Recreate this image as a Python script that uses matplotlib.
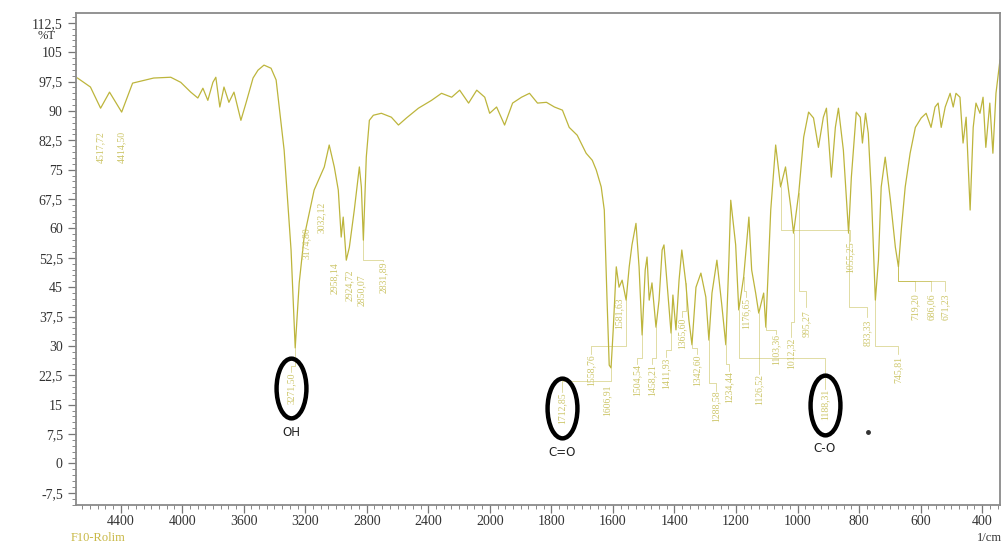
import numpy as np
import matplotlib.pyplot as plt
from matplotlib.path import Path
from matplotlib.transforms import Affine2D
from matplotlib.ticker import FixedLocator, FuncFormatter

# spectre IR (1/cm, %T)
wavenumber = [4680, 4596, 4530, 4472, 4393, 4322, 4185, 4074, 4009, 3944,
              3898, 3865, 3833, 3800, 3781, 3755, 3728, 3696, 3663, 3618,
              3585, 3539, 3507, 3468, 3422, 3389, 3337, 3292, 3265, 3239,
              3207, 3142, 3076, 3044, 3011, 2985, 2966, 2953, 2933, 2913,
              2881, 2848, 2835, 2822, 2803, 2783, 2757, 2705, 2640, 2594,
              2542, 2464, 2379, 2314, 2248, 2196, 2138, 2085, 2033, 2001,
              1978, 1952, 1926, 1897, 1871, 1845, 1816, 1790, 1764, 1742,
              1716, 1687, 1667, 1654, 1638, 1628, 1619, 1612, 1606, 1599,
              1589, 1580, 1570, 1557, 1547, 1538, 1525, 1515, 1505, 1495,
              1489, 1482, 1473, 1460, 1450, 1440, 1434, 1424, 1411, 1405,
              1395, 1385, 1376, 1363, 1353, 1343, 1330, 1314, 1298, 1288,
              1278, 1262, 1246, 1233, 1223, 1217, 1201, 1191, 1175, 1158,
              1149, 1136, 1126, 1110, 1103, 1087, 1071, 1055, 1039, 1022,
              1013, 996, 980, 964, 948, 932, 916, 906, 890, 877,
              867, 851, 834, 825, 809, 796, 789, 779, 770, 760,
              747, 737, 728, 715, 698, 682, 672, 662, 650, 634,
              617, 598, 582, 566, 553, 543, 533, 520, 504, 494,
              485, 472, 462, 452, 439, 429, 420, 407, 397, 388,
              375, 365, 355, 342]
transmittance = [98.4, 96.1, 90.7, 94.8, 89.7, 97.1, 98.4, 98.6, 97.3, 94.8,
                 93.3, 95.8, 92.7, 97.3, 98.6, 91.0, 96.1, 92.2, 94.8, 87.6,
                 92.0, 98.4, 100.4, 101.7, 100.9, 97.9, 80.0, 54.5, 29.5, 46.1,
                 57.8, 69.8, 75.7, 81.3, 75.7, 69.8, 57.8, 62.9, 51.9, 55.2,
                 64.7, 75.7, 70.6, 57.0, 78.2, 87.6, 88.9, 89.4, 88.4, 86.4,
                 88.2, 90.7, 92.7, 94.5, 93.5, 95.3, 92.0, 95.3, 93.5, 89.4,
                 91.0, 86.4, 92.0, 93.5, 94.5, 92.0, 92.2, 91.0, 90.2, 85.8,
                 83.8, 79.2, 77.4, 74.9, 70.6, 64.7, 41.7, 25.1, 24.4, 34.1,
                 50.2, 45.0, 46.8, 41.7, 50.2, 55.8, 61.3, 50.2, 32.8, 49.4,
                 52.7, 41.7, 46.1, 34.8, 41.7, 54.5, 55.8, 46.1, 33.3, 43.0,
                 34.1, 46.8, 54.5, 46.1, 36.6, 30.3, 45.0, 48.6, 42.5, 31.5,
                 43.5, 51.9, 40.4, 30.3, 51.9, 67.2, 55.8, 39.2, 47.6, 62.9,
                 49.4, 43.5, 38.4, 43.5, 34.8, 64.7, 81.3, 70.6, 75.7, 65.5,
                 58.8, 69.0, 83.3, 89.7, 88.2, 80.7, 88.4, 90.7, 73.1, 85.8,
                 90.7, 80.0, 58.8, 73.1, 89.7, 88.4, 81.8, 89.4, 84.3, 69.0,
                 41.7, 51.9, 70.6, 78.2, 67.2, 55.2, 50.2, 60.3, 70.6, 79.2,
                 85.8, 88.2, 89.4, 85.8, 91.0, 92.0, 85.8, 91.0, 94.5, 91.0,
                 94.5, 93.5, 81.8, 88.4, 64.7, 85.8, 92.0, 89.4, 93.5, 80.7,
                 92.0, 79.2, 94.5, 103.0]

# étiquettes des pics : texte, pic, position de l'étiquette, niveau du trait
peak_text = ["4517,72", "4414,50", "3174,80", "3032,12", "2958,14", "2924,72",
             "2850,07", "2831,89",
             "1606,91", "1581,63", "1558,76", "1504,54", "1458,21", "1411,93",
             "1365,60", "1342,60", "1288,58", "1234,44", "1176,65", "1126,52",
             "1103,36", "1012,32", "995,27", "1055,25", "833,33", "745,81",
             "719,20", "686,06", "671,23"]
peak_wn = [4530, 4393, 3207, 3076, 3011, 2913, 2848, 2822,
           1612, 1580, 1557, 1505, 1460, 1411, 1363, 1343, 1288, 1233,
           1175, 1126, 1103, 1013, 996, 1055, 834, 747, 672, 672, 672]
peak_T = [90.7, 89.7, 57.8, 75.7, 75.7, 55.2, 75.7, 57.0,
          25.1, 45.0, 41.7, 32.8, 34.8, 33.3, 46.1, 30.3, 31.5, 30.3,
          47.6, 38.4, 34.8, 58.8, 69.0, 70.6, 58.8, 41.7, 50.2, 50.2, 50.2]
label_wn = [4530, 4393, 3194, 3096, 3011, 2913, 2835, 2692,
            1619, 1580, 1670, 1521, 1473, 1427, 1376, 1327, 1265, 1223,
            1168, 1126, 1071, 1022, 971, 830, 774, 672, 617, 566, 520]
label_T = [80.7, 80.7, 56.2, 62.9, 47.3, 45.5, 44.3, 47.6,
           16.2, 38.4, 23.9, 21.3, 21.3, 23.1, 33.3, 23.9, 14.5, 19.6,
           38.4, 18.8, 29.0, 28.2, 35.8, 52.7, 33.3, 23.9, 40.0, 40.0, 40.0]
lead_T = [np.nan, np.nan, np.nan, np.nan, np.nan, np.nan, np.nan, 52.0,
          np.nan, np.nan, 30.0, 27.0, 27.0, 29.0, 39.0, 29.5, 20.5, 25.5,
          44.0, 24.5, 34.0, 36.0, 44.0, 59.6, 40.0, 30.0, 46.5, 46.5, 46.5]

# bandes entourées
group_name = ["OH", "C=O", "C-O"]
group_text = ["3271,50", "1712,85", "1188,31"]
group_wn = [3292, 1764, 912]
group_T = [19.3, 14.2, 15.0]
group_peak_wn = [3265, 1606, 1191]
group_peak_T = [29.5, 24.4, 39.2]
group_lead_T = [25.0, 21.0, 27.0]

yticks = [-7.5, 0, 7.5, 15, 22.5, 30, 37.5, 45, 52.5, 60, 67.5, 75,
          82.5, 90, 97.5, 105, 112.5]
xticks = [4400, 4000, 3600, 3200, 2800, 2400, 2000, 1800, 1600, 1400,
          1200, 1000, 800, 600, 400]

line_color = '#bdb53c'
label_color = '#cdc66a'
half_len = 4.1


def forward(x):
    x = np.asarray(x, dtype=float)
    return np.where(x > 2000, 2000 + (x - 2000) / 2, x)


def inverse(t):
    t = np.asarray(t, dtype=float)
    return np.where(t > 2000, 2000 + (t - 2000) * 2, t)


def comma(v, pos=None):
    s = ('%g' % v)
    return s.replace('.', ',')


plt.rcParams['font.family'] = ['Liberation Serif', 'DejaVu Serif']

fig = plt.figure(figsize=(10.05, 5.44), dpi=100)
ax = fig.add_axes([0.0756, 0.0717, 0.9194, 0.9044])
ax.set_xscale('function', functions=(forward, inverse))
ax.set_xlim(4690, 342)
ax.set_ylim(-10.6, 115)

ax.plot(wavenumber, transmittance, color=line_color, lw=0.9)

# étiquettes verticales et traits de rappel
for txt, pw, pt, lw_, lt, ld in zip(peak_text, peak_wn, peak_T, label_wn,
                                     label_T, lead_T):
    top = lt + half_len
    if not np.isnan(ld):
        ax.plot([pw, pw, lw_, lw_], [pt, ld, ld, top], color=line_color,
                lw=0.5, alpha=0.65)
    ax.text(lw_, lt, txt, rotation=90, fontsize=7, color=label_color,
            ha='center', va='center')

ellipse = Path.unit_circle().transformed(Affine2D().scale(0.5, 1.0))
for name, txt, gw, gt, pw, pt, ld in zip(group_name, group_text, group_wn,
                                         group_T, group_peak_wn,
                                         group_peak_T, group_lead_T):
    ax.plot([pw, pw, gw, gw], [pt, ld, ld, gt + half_len], color=line_color,
            lw=0.5, alpha=0.65)
    ax.text(gw, gt, txt, rotation=90, fontsize=7, color=label_color,
            ha='center', va='center')
    ax.plot([gw], [gt], marker=ellipse, ms=43, mfc='none', mec='black',
            mew=3.2)
    ax.text(gw, gt - 11.3, name, fontsize=8.5, color='#222222',
            ha='center', va='center', family='DejaVu Sans')

ax.plot([770], [8.0], marker='o', ms=2.5, color='#333333')

ax.xaxis.set_major_locator(FixedLocator(xticks))
ax.xaxis.set_minor_locator(FixedLocator(list(range(350, 2000, 25)) +
                                        list(range(2050, 4700, 50))))
ax.yaxis.set_major_locator(FixedLocator(yticks))
ax.yaxis.set_minor_locator(FixedLocator(np.arange(-10.5, 115, 1.5)))
ax.yaxis.set_major_formatter(FuncFormatter(comma))
ax.xaxis.set_major_formatter(FuncFormatter(comma))
ax.tick_params(which='major', direction='out', length=6, width=0.9,
               color='#777777', labelsize=10, labelcolor='#333333')
ax.tick_params(axis='x', which='major', pad=1.5)
ax.tick_params(which='minor', direction='out', length=3, width=0.7,
               color='#888888')
for s in ax.spines.values():
    s.set_color('#8a8a8a')
    s.set_linewidth(1.3)

fig.text(0.046, 0.934, '%T', fontsize=9, color='#333333', ha='center',
         va='center')
fig.text(0.07, 0.0, 'F10-Rolim', fontsize=9, color='#c8b845',
         ha='left', va='bottom')
fig.text(0.997, 0.0, '1/cm', fontsize=9, color='#333333',
         ha='right', va='bottom')

fig.savefig('out.png', dpi=100)
